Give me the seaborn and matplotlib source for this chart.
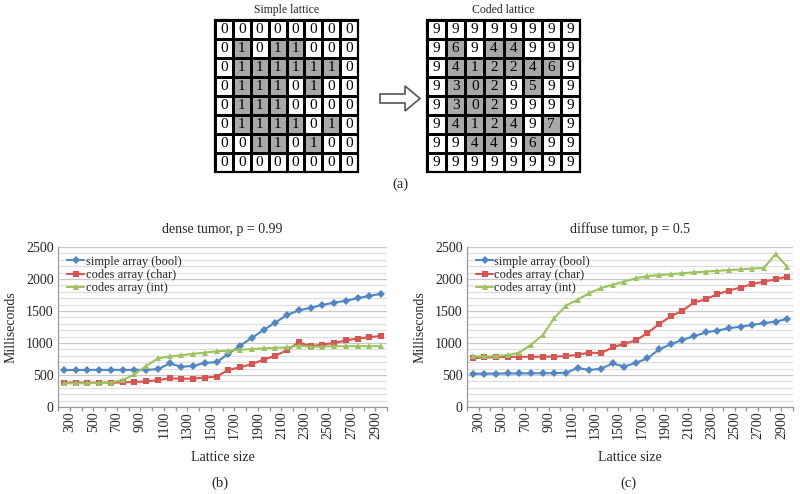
import matplotlib
matplotlib.use("Agg")
import numpy as np
import pandas as pd
import seaborn as sns
import matplotlib.pyplot as plt
import matplotlib.transforms as mtransforms
from matplotlib.colors import ListedColormap
from matplotlib.patches import Polygon, Rectangle
from matplotlib.ticker import MultipleLocator, FixedLocator

# ---------------- data ----------------
simple_lattice = [
    [0, 0, 0, 0, 0, 0, 0, 0],
    [0, 1, 0, 1, 1, 0, 0, 0],
    [0, 1, 1, 1, 1, 1, 1, 0],
    [0, 1, 1, 1, 0, 1, 0, 0],
    [0, 1, 1, 1, 0, 0, 0, 0],
    [0, 1, 1, 1, 1, 0, 1, 0],
    [0, 0, 1, 1, 0, 1, 0, 0],
    [0, 0, 0, 0, 0, 0, 0, 0],
]
coded_lattice = [
    [9, 9, 9, 9, 9, 9, 9, 9],
    [9, 6, 9, 4, 4, 9, 9, 9],
    [9, 4, 1, 2, 2, 4, 6, 9],
    [9, 3, 0, 2, 9, 5, 9, 9],
    [9, 3, 0, 2, 9, 9, 9, 9],
    [9, 4, 1, 2, 4, 9, 7, 9],
    [9, 9, 4, 4, 9, 6, 9, 9],
    [9, 9, 9, 9, 9, 9, 9, 9],
]

lattice_sizes = list(range(300, 3001, 100))
tick_labels = [str(v) for v in range(300, 3000, 200)]
series_names = ["simple array (bool)", "codes array (char)", "codes array (int)"]

dense_bool = [578, 578, 580, 580, 580, 580, 580, 582, 590, 680, 630, 640, 690, 700,
              830, 960, 1080, 1205, 1320, 1440, 1510, 1550, 1595, 1630, 1660, 1700, 1735, 1770]
dense_char = [380, 380, 380, 378, 378, 385, 390, 400, 420, 450, 440, 445, 460, 475,
              580, 620, 670, 740, 800, 890, 1010, 950, 975, 1000, 1040, 1070, 1090, 1110]
dense_int = [370, 370, 372, 375, 380, 420, 510, 640, 760, 790, 810, 830, 850, 870,
             880, 895, 905, 915, 925, 930, 960, 940, 945, 950, 950, 950, 950, 950]

diffuse_bool = [520, 522, 523, 524, 525, 526, 527, 530, 535, 610, 578, 598, 680, 632,
                690, 760, 900, 980, 1050, 1105, 1165, 1195, 1230, 1257, 1282, 1310, 1335, 1375]
diffuse_char = [760, 775, 778, 782, 785, 785, 786, 787, 795, 815, 850, 842, 930, 990,
                1040, 1155, 1295, 1416, 1505, 1633, 1684, 1762, 1819, 1867, 1922, 1958, 1997, 2036]
diffuse_int = [790, 790, 795, 810, 850, 975, 1120, 1390, 1583, 1676, 1779, 1857, 1909, 1960,
               2012, 2045, 2062, 2075, 2090, 2105, 2115, 2128, 2140, 2150, 2163, 2172, 2390, 2193]

colors = ["#4f86c6", "#d9534f", "#9cc45c"]
gray_cell = "#a8a8a8"

# ---------------- style ----------------
sns.set_theme(style="white")
plt.rcParams["font.family"] = ["Liberation Serif", "DejaVu Serif"]

fig = plt.figure(figsize=(8, 4.94), dpi=100)
W, H = 800.0, 494.0


def px_axes(x0, y0, x1, y1, **kw):
    return fig.add_axes([x0 / W, 1 - y1 / H, (x1 - x0) / W, (y1 - y0) / H], **kw)


# ---------------- lattices ----------------
def draw_lattice(ax, color_mask, values, title):
    sns.heatmap(np.array(color_mask), ax=ax, cmap=ListedColormap(["white", gray_cell]),
                vmin=0, vmax=1, cbar=False, annot=np.array(values), fmt="d",
                linewidths=0.9, linecolor="black",
                annot_kws={"fontsize": 11, "color": "black"})
    ax.set_xticks([])
    ax.set_yticks([])
    ax.add_patch(Rectangle((0, 0), 8, 8, fill=False, lw=1.6, edgecolor="black", clip_on=False))
    ax.set_title(title, fontsize=8.5, pad=5)


ax_s = px_axes(215, 20, 358, 172)
draw_lattice(ax_s, simple_lattice, simple_lattice, "Simple lattice")
ax_c = px_axes(427, 20, 580, 172)
coded_mask = (np.array(coded_lattice) != 9).astype(int)
draw_lattice(ax_c, coded_mask, coded_lattice, "Coded lattice")

# arrow + panel labels on an overlay
ov = fig.add_axes([0, 0, 1, 1], zorder=5)
ov.set_xlim(0, W)
ov.set_ylim(H, 0)
ov.axis("off")
ov.patch.set_alpha(0)
ov.add_patch(Polygon([(380, 94), (405, 94), (405, 86), (420, 98.5), (405, 111), (405, 103), (380, 103)],
                     closed=True, facecolor="white", edgecolor="#555555", lw=1.2))
ov.text(400, 184, "(a)", ha="center", va="center", fontsize=10.5)
ov.text(220, 483, "(b)", ha="center", va="center", fontsize=10.5)
ov.text(628, 483, "(c)", ha="center", va="center", fontsize=10.5)


# ---------------- line charts ----------------
def draw_chart(ax, vals, title):
    df = pd.DataFrame({
        "k": np.tile(np.arange(len(lattice_sizes)), 3),
        "ms": np.concatenate([np.array(v, dtype=float) for v in vals]),
        "series": np.repeat(series_names, len(lattice_sizes)),
    })
    sns.lineplot(data=df, x="k", y="ms", hue="series", style="series",
                 hue_order=series_names, style_order=series_names,
                 markers=["D", "s", "^"], dashes=False, palette=colors, ax=ax,
                 markersize=4, linewidth=1.5, markeredgewidth=0)
    ax.set_xlim(-0.5, len(lattice_sizes) - 0.5)
    ax.set_ylim(0, 2500)
    ax.yaxis.set_major_locator(MultipleLocator(500))
    ax.yaxis.set_minor_locator(MultipleLocator(100))
    ax.grid(which="major", axis="y", color="#c9c9c9", lw=0.9)
    ax.grid(which="minor", axis="y", color="#dedede", lw=0.9)
    ax.grid(which="both", axis="x", visible=False)
    ax.set_axisbelow(True)
    ax.set_xticks(np.arange(0, len(lattice_sizes), 2))
    ax.set_xticklabels(tick_labels, rotation=90, fontsize=10)
    ax.xaxis.set_minor_locator(FixedLocator(np.arange(-0.5, len(lattice_sizes), 1)))
    ax.tick_params(axis="x", which="major", length=0, pad=3)
    ax.tick_params(axis="x", which="minor", length=3, color="#999999", bottom=True)
    ax.tick_params(axis="y", which="both", length=0, labelsize=10, pad=3)
    off = mtransforms.ScaledTranslation(6 / 100, 0, fig.dpi_scale_trans)
    for lab in ax.get_xticklabels():
        lab.set_transform(lab.get_transform() + off)
    for s in ["top", "right"]:
        ax.spines[s].set_visible(False)
    for s in ["left", "bottom"]:
        ax.spines[s].set_color("#999999")
        ax.spines[s].set_linewidth(0.9)
    ax.set_title(title, fontsize=10, pad=10)
    ax.set_xlabel("Lattice size", fontsize=10, labelpad=9)
    ax.set_ylabel("Milliseconds", fontsize=10, labelpad=6)
    sns.move_legend(ax, "upper left", title=None, frameon=False, fontsize=9,
                    handlelength=1.4, handletextpad=0.1, labelspacing=0.1,
                    borderaxespad=0.3, bbox_to_anchor=(0.0, 1.0))


ax_b = px_axes(58, 247, 387, 407)
draw_chart(ax_b, [dense_bool, dense_char, dense_int], "dense tumor, p = 0.99")
ax_d = px_axes(467, 247, 793, 407)
draw_chart(ax_d, [diffuse_bool, diffuse_char, diffuse_int], "diffuse tumor, p = 0.5")

fig.savefig("out.png", dpi=100)
